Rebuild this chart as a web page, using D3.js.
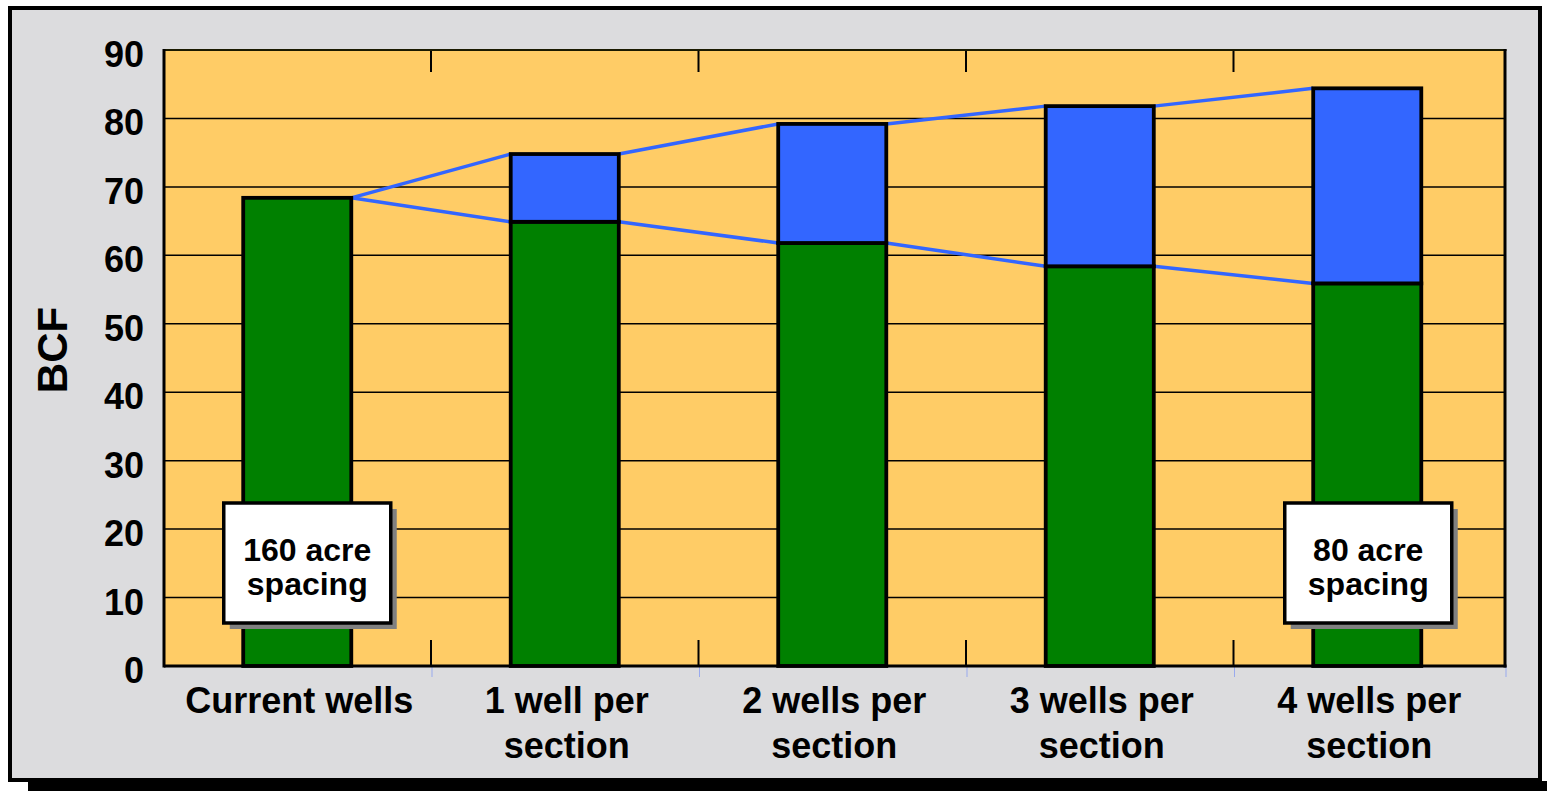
<!DOCTYPE html>
<html><head><meta charset="utf-8">
<script src="https://cdn.jsdelivr.net/npm/d3@7/dist/d3.min.js"></script>
<style>html,body{margin:0;padding:0;background:#fff;}svg{display:block;font-family:"Liberation Sans",Arial,sans-serif;font-weight:bold;}</style>
</head><body>
<script>
const categories = [["Current wells"], ["1 well per","section"], ["2 wells per","section"], ["3 wells per","section"], ["4 wells per","section"]];
const baseValues = [68.4, 64.9, 61.8, 58.4, 55.9];
const addedValues = [0, 9.9, 17.4, 23.4, 28.5];
const yTicks = [0,10,20,30,40,50,60,70,80,90];
const yTitle = "BCF";
const notes = [{cat:0, lines:["160 acre","spacing"], dx:10}, {cat:4, lines:["80 acre","spacing"], dx:1}];

(function(){
const W = 1547, H = 791;
const svg = d3.select("body").append("svg").attr("width", W).attr("height", H);

// outer panel
svg.append("rect").attr("x",28).attr("y",781).attr("width",W).attr("height",20).attr("fill","#000");
svg.append("rect").attr("x",10).attr("y",8).attr("width",1530).attr("height",772)
  .attr("fill","#DCDCDE").attr("stroke","#000").attr("stroke-width",4);

const pL = 164, pR = 1505, pT = 50, pB = 666;
const x = d3.scaleBand().domain(d3.range(categories.length)).range([163.5, 1501]).paddingInner(0.596).paddingOuter(0.298);
const y = d3.scaleLinear().domain([0, 90]).range([pB, pT]);

svg.append("rect").attr("x",pL).attr("y",pT).attr("width",pR-pL).attr("height",pB-pT).attr("fill","#FFCC66");

// gridlines
svg.append("g").selectAll("line").data(yTicks.filter(d=>d>0 && d<90)).join("line")
  .attr("x1",pL).attr("x2",pR).attr("y1",d=>y(d)).attr("y2",d=>y(d))
  .attr("stroke","#000").attr("stroke-width",1.5);

// connector lines
const totals = baseValues.map((b,i)=>b+addedValues[i]);
const conn = svg.append("g").attr("stroke","#3366FF").attr("stroke-width",3.5).attr("fill","none");
for (let i=0;i<categories.length-1;i++){
  const x1 = x(i)+x.bandwidth(), x2 = x(i+1);
  conn.append("line").attr("x1",x1).attr("x2",x2).attr("y1",y(totals[i])).attr("y2",y(totals[i+1]));
  conn.append("line").attr("x1",x1).attr("x2",x2).attr("y1",y(baseValues[i])).attr("y2",y(baseValues[i+1]));
}

// bars
const bars = svg.append("g").attr("stroke","#000").attr("stroke-width",3.8);
bars.selectAll("rect.b").data(baseValues).join("rect").attr("class","b")
  .attr("x",(d,i)=>x(i)).attr("width",x.bandwidth())
  .attr("y",d=>y(d)).attr("height",d=>pB-y(d)).attr("fill","#008000");
bars.selectAll("rect.a").data(addedValues.map((v,i)=>({v,i})).filter(d=>d.v>0)).join("rect").attr("class","a")
  .attr("x",d=>x(d.i)).attr("width",x.bandwidth())
  .attr("y",d=>y(baseValues[d.i]+d.v)).attr("height",d=>y(baseValues[d.i])-y(baseValues[d.i]+d.v)).attr("fill","#3366FF");

// category ticks
const bounds = d3.range(1,categories.length).map(i=>x(i)-x.step()*x.paddingInner()/2);
const tk = svg.append("g");
tk.selectAll("line.t").data(bounds).join("line").attr("class","t").attr("x1",d=>d).attr("x2",d=>d).attr("y1",pT).attr("y2",pT+22).attr("stroke","#000").attr("stroke-width",2);
tk.selectAll("line.bt").data(bounds).join("line").attr("class","bt").attr("x1",d=>d).attr("x2",d=>d).attr("y1",pB-26).attr("y2",pB).attr("stroke","#000").attr("stroke-width",2);
tk.selectAll("line.f").data(bounds.concat([pR])).join("line").attr("class","f").attr("x1",d=>d+1).attr("x2",d=>d+1).attr("y1",pB).attr("y2",pB+11).attr("stroke","#99AAEE").attr("stroke-width",1);

// plot borders
svg.append("line").attr("x1",pL).attr("x2",pR+1.5).attr("y1",pT).attr("y2",pT).attr("stroke","#1a1a00").attr("stroke-width",2);
svg.append("line").attr("x1",pL).attr("x2",pL).attr("y1",pT-1).attr("y2",pB+1.5).attr("stroke","#000").attr("stroke-width",3);
svg.append("line").attr("x1",pR).attr("x2",pR).attr("y1",pT-1).attr("y2",pB+1.5).attr("stroke","#000").attr("stroke-width",3);
svg.append("line").attr("x1",pL).attr("x2",pR+1.5).attr("y1",pB).attr("y2",pB).attr("stroke","#000").attr("stroke-width",3);

// y tick labels
svg.append("g").selectAll("text").data(yTicks).join("text")
  .attr("x",144).attr("y",d=>y(d)+17).attr("text-anchor","end").attr("font-size",36).attr("fill","#000").text(d=>d);

// y title
svg.append("text").attr("transform","translate(67,350) rotate(-90)").attr("text-anchor","middle")
  .attr("font-size",42).attr("fill","#000").text(yTitle);

// x labels
const xl = svg.append("g").attr("font-size",36).attr("fill","#000").attr("text-anchor","middle");
categories.forEach((lines,i)=>{
  lines.forEach((t,j)=>{
    xl.append("text").attr("x",x(i)+x.bandwidth()/2+2).attr("y",713+j*45).text(t);
  });
});

// annotations
notes.forEach(n=>{
  const cx = x(n.cat)+x.bandwidth()/2+n.dx;
  const bw = 167, bh = 120, bx = cx-bw/2, by = 503;
  svg.append("rect").attr("x",bx+6).attr("y",by+6).attr("width",bw).attr("height",bh).attr("fill","#808080");
  svg.append("rect").attr("x",bx).attr("y",by).attr("width",bw).attr("height",bh).attr("fill","#fff").attr("stroke","#000").attr("stroke-width",3.5);
  n.lines.forEach((t,j)=>{
    svg.append("text").attr("x",cx).attr("y",561+j*34).attr("text-anchor","middle").attr("font-size",32).attr("fill","#000").text(t);
  });
});
})();
</script>
</body></html>
